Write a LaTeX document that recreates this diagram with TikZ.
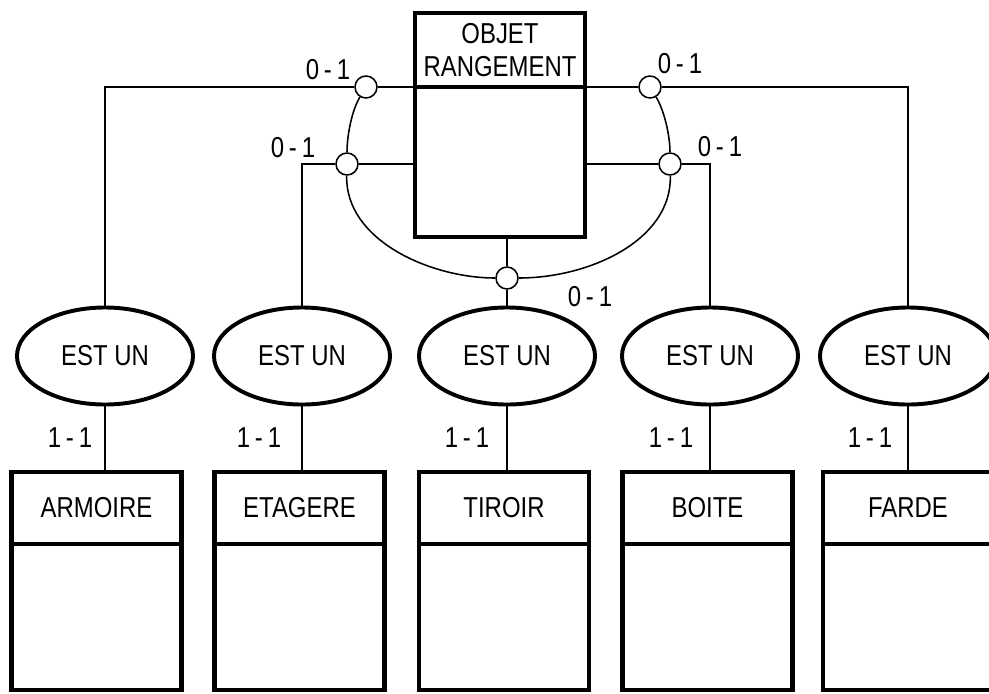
\documentclass[tikz,border=0pt]{standalone}
\usepackage{fontspec}
\setmainfont{Liberation Sans}[FakeStretch=0.83]
\usetikzlibrary{positioning,shapes.geometric}
\tikzset{
  enthead/.style={draw, line width=3.4pt, outer sep=0pt, inner sep=0pt,
                  minimum width=4.25cm, minimum height=1.8cm, align=center,
                  font=\fontsize{20.5}{23.4}\selectfont},
  entbody/.style={draw, line width=3.4pt, outer sep=0pt, inner sep=0pt,
                  minimum width=4.25cm, minimum height=3.65cm},
  isa/.style={ellipse, draw, line width=2.8pt, inner sep=0pt,
              minimum width=4.4cm, minimum height=2.425cm,
              font=\fontsize{20.5}{23.4}\selectfont},
  role/.style={circle, draw, fill=white, line width=1.1pt, inner sep=0pt,
               minimum size=0.55cm},
  card/.style={inner sep=0pt, font=\fontsize{20.5}{23.4}\selectfont},
  link/.style={line width=1.1pt}
}

\begin{document}
\begin{tikzpicture}[x=0.025cm, y=-0.025cm]
\clip (0,0) rectangle (989,693);
% supertype
\node[enthead, minimum height=1.85cm] (objh) at (500,50) {OBJET\\RANGEMENT};
\node[entbody, minimum height=3.75cm, below=0pt of objh] (objb) {};
% role circles of the sub-type links
\node[role] (r1) at (366,87) {};
\node[role] (r2) at (347,164) {};
\node[role] (r3) at (650,87) {};
\node[role] (r4) at (670,164) {};
\node[role] (r5) at (507,278) {};
\node[card] (r1c) at (328,70) {0\,-\,1};
\node[card] (r2c) at (293,148) {0\,-\,1};
\node[card] (r3c) at (680,64) {0\,-\,1};
\node[card] (r4c) at (720,147) {0\,-\,1};
\node[card] (r5c) at (590,297) {0\,-\,1};
% sub-types
\node[enthead] (armh) at (96.5,508) {ARMOIRE};
\node[entbody, below=0pt of armh] (armb) {};
\node[enthead] (etah) at (299.5,508) {ETAGERE};
\node[entbody, below=0pt of etah] (etab) {};
\node[enthead] (tirh) at (504,508) {TIROIR};
\node[entbody, below=0pt of tirh] (tirb) {};
\node[enthead] (boih) at (707.5,508) {BOITE};
\node[entbody, below=0pt of boih] (boib) {};
\node[enthead] (farh) at (908,508) {FARDE};
\node[entbody, below=0pt of farh] (farb) {};
% est-un relations
\node[isa] (arme) at (105,356) {EST UN};
\node[isa] (etae) at (302,356) {EST UN};
\node[isa] (tire) at (507,356) {EST UN};
\node[isa] (boie) at (710,356) {EST UN};
\node[isa] (fare) at (908,356) {EST UN};
\node[card] (armc) at (70,438) {1\,-\,1};
\node[card] (etac) at (259,438) {1\,-\,1};
\node[card] (tirc) at (467,438) {1\,-\,1};
\node[card] (boic) at (671,438) {1\,-\,1};
\node[card] (farc) at (870,438) {1\,-\,1};
\draw[link] (arme) -- (arme |- armh.north);
\draw[link] (etae) -- (etae |- etah.north);
\draw[link] (tire) -- (tire |- tirh.north);
\draw[link] (boie) -- (boie |- boih.north);
\draw[link] (fare) -- (fare |- farh.north);
% links to the supertype
\draw[link] (arme) |- (r1);
\draw[link] (r1) -- (objh.south west);
\draw[link] (etae) |- (r2);
\draw[link] (r2) -- (objb.west |- r2);
\draw[link] (objh.south east) -- (r3);
\draw[link] (r3) -| (fare);
\draw[link] (objb.east |- r4) -- (r4);
\draw[link] (r4) -| (boie);
\draw[link] (objb.south -| r5) -- (r5);
\draw[link] (r5) -- (tire);
% exclusion arc
\draw[link] (r1) .. controls (352,110) and (347,135) .. (r2);
\draw[link] (r2) .. controls (345,240) and (430,278) .. (r5);
\draw[link] (r5) .. controls (590,278) and (672,240) .. (r4);
\draw[link] (r4) .. controls (670,135) and (664,110) .. (r3);
\end{tikzpicture}
\end{document}
